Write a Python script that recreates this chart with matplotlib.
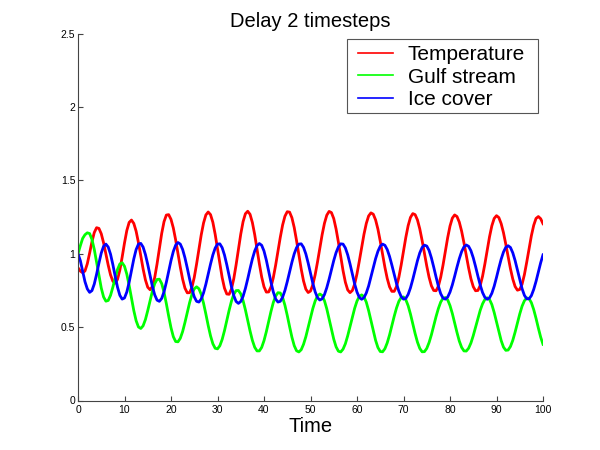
import matplotlib
matplotlib.use("Agg")
import matplotlib.pyplot as plt
from matplotlib.patches import Rectangle
import numpy as np

plt.rcParams['font.family'] = ['Liberation Sans', 'DejaVu Sans']

# half time steps 0, 0.5, ..., 100
time = np.linspace(0, 100, 201)

temperature = [
    0.905, 0.882, 0.871, 0.883, 0.932, 1.005, 1.082, 1.145, 1.178, 1.173,
    1.137, 1.075, 0.999, 0.922, 0.856, 0.813, 0.800, 0.826, 0.889, 0.978,
    1.074, 1.159, 1.214, 1.230, 1.207, 1.154, 1.076, 0.986, 0.897, 0.822,
    0.772, 0.755, 0.777, 0.839, 0.931, 1.037, 1.139, 1.219, 1.264, 1.267,
    1.235, 1.176, 1.095, 1.002, 0.909, 0.827, 0.766, 0.734, 0.735, 0.771,
    0.839, 0.930, 1.031, 1.129, 1.210, 1.265, 1.285, 1.267, 1.215, 1.133,
    1.034, 0.932, 0.838, 0.766, 0.726, 0.724, 0.760, 0.830, 0.925, 1.032,
    1.134, 1.219, 1.273, 1.290, 1.269, 1.213, 1.131, 1.033, 0.932, 0.842,
    0.775, 0.739, 0.740, 0.774, 0.837, 0.922, 1.017, 1.112, 1.196, 1.256,
    1.287, 1.284, 1.246, 1.179, 1.090, 0.992, 0.896, 0.815, 0.759, 0.736,
    0.746, 0.789, 0.857, 0.943, 1.038, 1.130, 1.208, 1.263, 1.289, 1.281,
    1.240, 1.169, 1.079, 0.980, 0.885, 0.806, 0.754, 0.735, 0.750, 0.794,
    0.864, 0.951, 1.044, 1.133, 1.207, 1.258, 1.279, 1.270, 1.231, 1.168,
    1.086, 0.996, 0.908, 0.832, 0.775, 0.744, 0.744, 0.777, 0.840, 0.924,
    1.018, 1.112, 1.192, 1.248, 1.274, 1.267, 1.231, 1.170, 1.091, 1.004,
    0.917, 0.840, 0.782, 0.750, 0.748, 0.779, 0.840, 0.923, 1.017, 1.110,
    1.189, 1.243, 1.265, 1.254, 1.216, 1.154, 1.075, 0.988, 0.904, 0.830,
    0.776, 0.748, 0.750, 0.784, 0.847, 0.931, 1.025, 1.116, 1.191, 1.241,
    1.260, 1.247, 1.206, 1.144, 1.065, 0.980, 0.898, 0.828, 0.777, 0.752,
    0.757, 0.793, 0.858, 0.943, 1.035, 1.123, 1.194, 1.241, 1.254, 1.239,
    1.205]

gulf_stream = [
    1.000, 1.055, 1.105, 1.130, 1.143, 1.138, 1.098, 1.030, 0.942, 0.850,
    0.767, 0.706, 0.677, 0.682, 0.717, 0.773, 0.836, 0.893, 0.931, 0.939,
    0.915, 0.861, 0.784, 0.697, 0.613, 0.544, 0.501, 0.491, 0.509, 0.552,
    0.613, 0.681, 0.746, 0.797, 0.825, 0.827, 0.797, 0.738, 0.660, 0.575,
    0.496, 0.435, 0.402, 0.400, 0.424, 0.470, 0.532, 0.601, 0.667, 0.723,
    0.761, 0.775, 0.762, 0.723, 0.663, 0.589, 0.511, 0.441, 0.387, 0.356,
    0.352, 0.373, 0.416, 0.476, 0.545, 0.615, 0.677, 0.724, 0.749, 0.750,
    0.727, 0.681, 0.618, 0.546, 0.474, 0.410, 0.363, 0.338, 0.338, 0.362,
    0.408, 0.469, 0.538, 0.607, 0.668, 0.712, 0.735, 0.733, 0.703, 0.649,
    0.580, 0.504, 0.432, 0.374, 0.339, 0.331, 0.346, 0.383, 0.435, 0.498,
    0.564, 0.627, 0.678, 0.712, 0.726, 0.716, 0.680, 0.625, 0.556, 0.484,
    0.418, 0.366, 0.336, 0.331, 0.350, 0.387, 0.441, 0.503, 0.568, 0.629,
    0.678, 0.709, 0.720, 0.707, 0.670, 0.613, 0.545, 0.474, 0.410, 0.361,
    0.334, 0.332, 0.353, 0.393, 0.447, 0.510, 0.574, 0.631, 0.676, 0.702,
    0.706, 0.687, 0.646, 0.589, 0.523, 0.456, 0.398, 0.355, 0.332, 0.333,
    0.355, 0.395, 0.448, 0.510, 0.572, 0.627, 0.671, 0.697, 0.702, 0.686,
    0.647, 0.593, 0.529, 0.464, 0.405, 0.362, 0.338, 0.337, 0.356, 0.392,
    0.442, 0.500, 0.560, 0.615, 0.659, 0.689, 0.700, 0.689, 0.654, 0.600,
    0.536, 0.469, 0.409, 0.364, 0.342, 0.344, 0.368, 0.410, 0.466, 0.528,
    0.590, 0.643, 0.680, 0.699, 0.695, 0.667, 0.620, 0.560, 0.494, 0.432,
    0.383]

ice_cover = [
    1.000, 0.954, 0.883, 0.810, 0.761, 0.737, 0.749, 0.794, 0.861, 0.936,
    1.005, 1.051, 1.066, 1.046, 0.997, 0.926, 0.846, 0.772, 0.717, 0.691,
    0.699, 0.740, 0.806, 0.885, 0.965, 1.029, 1.066, 1.071, 1.046, 0.995,
    0.927, 0.851, 0.778, 0.720, 0.684, 0.676, 0.696, 0.741, 0.806, 0.880,
    0.954, 1.016, 1.059, 1.077, 1.066, 1.030, 0.973, 0.903, 0.828, 0.760,
    0.707, 0.676, 0.671, 0.692, 0.734, 0.793, 0.861, 0.930, 0.992, 1.039,
    1.066, 1.068, 1.042, 0.992, 0.925, 0.849, 0.776, 0.715, 0.675, 0.662,
    0.675, 0.710, 0.764, 0.829, 0.899, 0.965, 1.019, 1.056, 1.070, 1.058,
    1.019, 0.957, 0.883, 0.807, 0.740, 0.692, 0.671, 0.676, 0.704, 0.750,
    0.810, 0.876, 0.942, 1.000, 1.042, 1.066, 1.068, 1.044, 0.999, 0.937,
    0.867, 0.799, 0.741, 0.701, 0.685, 0.693, 0.722, 0.769, 0.827, 0.891,
    0.954, 1.008, 1.047, 1.068, 1.066, 1.040, 0.993, 0.931, 0.861, 0.794,
    0.739, 0.703, 0.690, 0.701, 0.733, 0.781, 0.842, 0.906, 0.967, 1.017,
    1.052, 1.066, 1.058, 1.029, 0.982, 0.923, 0.859, 0.797, 0.745, 0.708,
    0.691, 0.696, 0.723, 0.768, 0.826, 0.891, 0.953, 1.006, 1.043, 1.059,
    1.053, 1.023, 0.972, 0.909, 0.842, 0.779, 0.728, 0.698, 0.691, 0.705,
    0.739, 0.788, 0.847, 0.909, 0.967, 1.015, 1.047, 1.060, 1.051, 1.021,
    0.973, 0.913, 0.848, 0.787, 0.736, 0.703, 0.690, 0.700, 0.731, 0.779,
    0.839, 0.903, 0.963, 1.012, 1.044, 1.055, 1.043, 1.007, 0.954, 0.889,
    0.822, 0.762, 0.717, 0.693, 0.693, 0.715, 0.757, 0.812, 0.876, 0.939,
    0.993]

labels = ['Temperature', 'Gulf stream', 'Ice cover']
colors = ['#ff0000', '#00ff00', '#0000ff']
xticks = list(range(0, 101, 10))
yticks = [0, 0.5, 1, 1.5, 2, 2.5]
ytick_labels = ['0', '0.5', '1', '1.5', '2', '2.5']

fig = plt.figure(figsize=(6, 4.5), dpi=100)
ax = fig.add_axes([0.13, 0.11, 0.775, 0.815])

for series, lab, col in zip([temperature, gulf_stream, ice_cover], labels, colors):
    ax.plot(time, series, color=col, linewidth=2, label=lab)

ax.set_xlim(0, 100)
ax.set_ylim(0, 2.5)
ax.set_xticks(xticks)
ax.set_yticks(yticks)
ax.set_yticklabels(ytick_labels)

axis_col = '#444444'
for side in ['top', 'right']:
    ax.spines[side].set_visible(False)
for side in ['left', 'bottom']:
    ax.spines[side].set_color(axis_col)
    ax.spines[side].set_linewidth(0.8)
ax.tick_params(direction='in', length=3.5, width=0.8, color=axis_col,
               labelsize=7.5, labelcolor='black')
ax.tick_params(axis='x', pad=3)
ax.tick_params(axis='y', pad=2)

ax.set_title('Delay 2 timesteps', fontsize=14.5, pad=5)
ax.set_xlabel('Time', fontsize=14.5, labelpad=2)

# legend without its own frame; box drawn separately (MATLAB style padding)
leg = ax.legend(loc='upper left', bbox_to_anchor=(358 / 600, 1 - 45 / 450),
                bbox_transform=fig.transFigure, fontsize=15, frameon=False,
                borderpad=0, labelspacing=0.17, handlelength=1.7,
                handletextpad=0.68, borderaxespad=0)
for line in leg.get_lines():
    line.set_linewidth(1.2)
fig.add_artist(Rectangle((347 / 600, 1 - 113 / 450), 191 / 600, 74 / 450,
                         transform=fig.transFigure, fill=False,
                         edgecolor='#555555', linewidth=0.8))

fig.savefig('out.png', dpi=100, facecolor='white')
